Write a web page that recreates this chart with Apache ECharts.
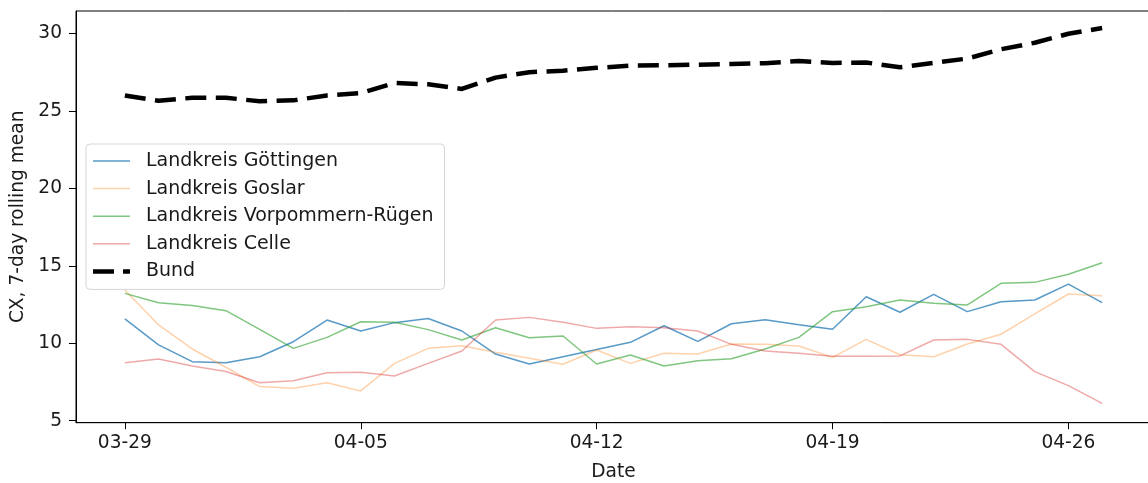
<!DOCTYPE html>
<html>
<head>
<meta charset="utf-8">
<script src="https://cdn.jsdelivr.net/npm/echarts@6/dist/echarts.min.js"></script>
<style>
html,body{margin:0;padding:0;background:#fff;}
#chart{width:1148px;height:483px;}
</style>
</head>
<body>
<div id="chart"></div>
<script>
// Dates (one per day) and tick labels
const dates = ['03-29','03-30','03-31','04-01','04-02','04-03','04-04','04-05','04-06','04-07',
  '04-08','04-09','04-10','04-11','04-12','04-13','04-14','04-15','04-16','04-17',
  '04-18','04-19','04-20','04-21','04-22','04-23','04-24','04-25','04-26','04-27'];
const xTickLabels = ['03-29','04-05','04-12','04-19','04-26'];
const yTickValues = [5, 10, 15, 20, 25, 30];

const goettingen = [11.57, 9.89, 8.81, 8.74, 9.13, 10.1, 11.5, 10.79, 11.33, 11.6,
  10.79, 9.3, 8.66, 9.13, 9.6, 10.06, 11.13, 10.12, 11.26, 11.52,
  11.2, 10.9, 13.0, 12.0, 13.16, 12.04, 12.68, 12.79, 13.82, 12.62];
const goslar = [13.44, 11.18, 9.63, 8.45, 7.2, 7.09, 7.45, 6.92, 8.7, 9.67,
  9.84, 9.42, 9.03, 8.64, 9.56, 8.7, 9.35, 9.3, 9.95, 9.93,
  9.82, 9.09, 10.25, 9.26, 9.13, 9.95, 10.58, 11.89, 13.18, 13.07];
const vorpommern = [13.22, 12.62, 12.43, 12.1, 10.9, 9.67, 10.38, 11.39, 11.35, 10.88,
  10.21, 11.0, 10.36, 10.47, 8.66, 9.24, 8.53, 8.87, 9.0, 9.63,
  10.38, 12.04, 12.36, 12.79, 12.58, 12.47, 13.87, 13.93, 14.45, 15.2];
const celle = [8.74, 8.98, 8.53, 8.17, 7.45, 7.58, 8.1, 8.12, 7.89, 8.7,
  9.5, 11.5, 11.67, 11.35, 10.96, 11.07, 11.0, 10.79, 9.93, 9.5,
  9.35, 9.16, 9.16, 9.18, 10.21, 10.25, 9.93, 8.17, 7.26, 6.12];
const bund = [26.0, 25.65, 25.85, 25.85, 25.62, 25.68, 26.0, 26.15, 26.8, 26.72,
  26.42, 27.15, 27.5, 27.6, 27.78, 27.92, 27.95, 27.98, 28.03, 28.08,
  28.22, 28.1, 28.12, 27.82, 28.1, 28.38, 28.98, 29.4, 29.98, 30.35];

const xTickIdx = xTickLabels.map(l => dates.indexOf(l));
const pts = arr => arr.map((v, i) => [i, v]);

const FONT = 'DejaVu Sans';
const TXT = '#1a1a1a';

// legend icons: bounding points at top/bottom keep the stroke thin inside a 39x14 box
const BOX = 'M0,0 L0.01,0 Z M0,14 L0.01,14 Z ';
const thinIcon = 'path://' + BOX + 'M0,6.25 L37,6.25 L37,7.75 L0,7.75 Z M39,0 L39.01,0 Z';
const dashIcon = 'path://' + BOX + 'M0,4.75 L21,4.75 L21,9.25 L0,9.25 Z M30,4.75 L37,4.75 L37,9.25 L30,9.25 Z M39,0 L39.01,0 Z';

const chart = echarts.init(document.getElementById('chart'), null, {renderer: 'canvas'});
chart.setOption({
  animation: false,
  backgroundColor: '#fff',
  textStyle: {fontFamily: FONT},
  grid: {left: 76, width: 1075, top: 11, bottom: 60.3, show: true, borderColor: '#000', borderWidth: 1,
    containLabel: false, outerBoundsMode: 'none'},
  legend: {
    orient: 'vertical', left: 86, top: 144,
    padding: [7.5, 11, 8.5, 7],
    itemWidth: 39, itemHeight: 14, itemGap: 8.6,
    borderColor: '#d6d6d6', borderWidth: 1, borderRadius: 4,
    backgroundColor: 'rgba(255,255,255,0.8)',
    textStyle: {fontFamily: FONT, fontSize: 19, color: TXT, padding: [0, 0, 0, 9]},
    data: [
      {name: 'Landkreis Göttingen', icon: thinIcon},
      {name: 'Landkreis Goslar', icon: thinIcon},
      {name: 'Landkreis Vorpommern-Rügen', icon: thinIcon},
      {name: 'Landkreis Celle', icon: thinIcon},
      {name: 'Bund', icon: dashIcon}
    ]
  },
  xAxis: {
    type: 'value', min: -1.45, max: 30.45,
    name: 'Date', nameLocation: 'middle', nameGap: 40,
    nameTextStyle: {fontFamily: FONT, fontSize: 18.6, color: TXT},
    axisLine: {show: true, onZero: false, lineStyle: {color: '#000', width: 1}},
    axisTick: {show: true, length: 6.5, customValues: xTickIdx, lineStyle: {color: '#000', width: 1}},
    axisLabel: {customValues: xTickIdx, margin: 11, fontFamily: FONT, fontSize: 18.6, color: TXT,
      formatter: v => dates[Math.round(v)]},
    splitLine: {show: false}
  },
  yAxis: {
    type: 'value', min: 4.87, max: 31.45,
    name: 'CX, 7-day rolling mean', nameLocation: 'middle', nameGap: 48,
    nameTextStyle: {fontFamily: FONT, fontSize: 18.6, color: TXT},
    axisLine: {show: true, onZero: false, lineStyle: {color: '#000', width: 1}},
    axisTick: {show: true, length: 7, customValues: yTickValues, lineStyle: {color: '#000', width: 1}},
    axisLabel: {customValues: yTickValues, margin: 14, fontFamily: FONT, fontSize: 18.6, color: TXT},
    splitLine: {show: false}
  },
  series: [
    {name: 'Landkreis Göttingen', type: 'line', data: pts(goettingen), showSymbol: false, symbol: 'none',
      lineStyle: {width: 1.5, color: 'rgba(31,119,180,0.75)'}, itemStyle: {color: 'rgba(31,119,180,0.75)'}},
    {name: 'Landkreis Goslar', type: 'line', data: pts(goslar), showSymbol: false, symbol: 'none',
      lineStyle: {width: 1.5, color: 'rgba(255,127,14,0.35)'}, itemStyle: {color: 'rgba(255,127,14,0.35)'}},
    {name: 'Landkreis Vorpommern-Rügen', type: 'line', data: pts(vorpommern), showSymbol: false, symbol: 'none',
      lineStyle: {width: 1.5, color: 'rgba(44,160,44,0.6)'}, itemStyle: {color: 'rgba(44,160,44,0.6)'}},
    {name: 'Landkreis Celle', type: 'line', data: pts(celle), showSymbol: false, symbol: 'none',
      lineStyle: {width: 1.5, color: 'rgba(214,39,40,0.4)'}, itemStyle: {color: 'rgba(214,39,40,0.4)'}},
    {name: 'Bund', type: 'line', data: pts(bund), showSymbol: false, symbol: 'none',
      lineStyle: {width: 4.5, color: '#000', type: [21, 9.5]}, itemStyle: {color: '#000'}}
  ]
});
</script>
</body>
</html>
